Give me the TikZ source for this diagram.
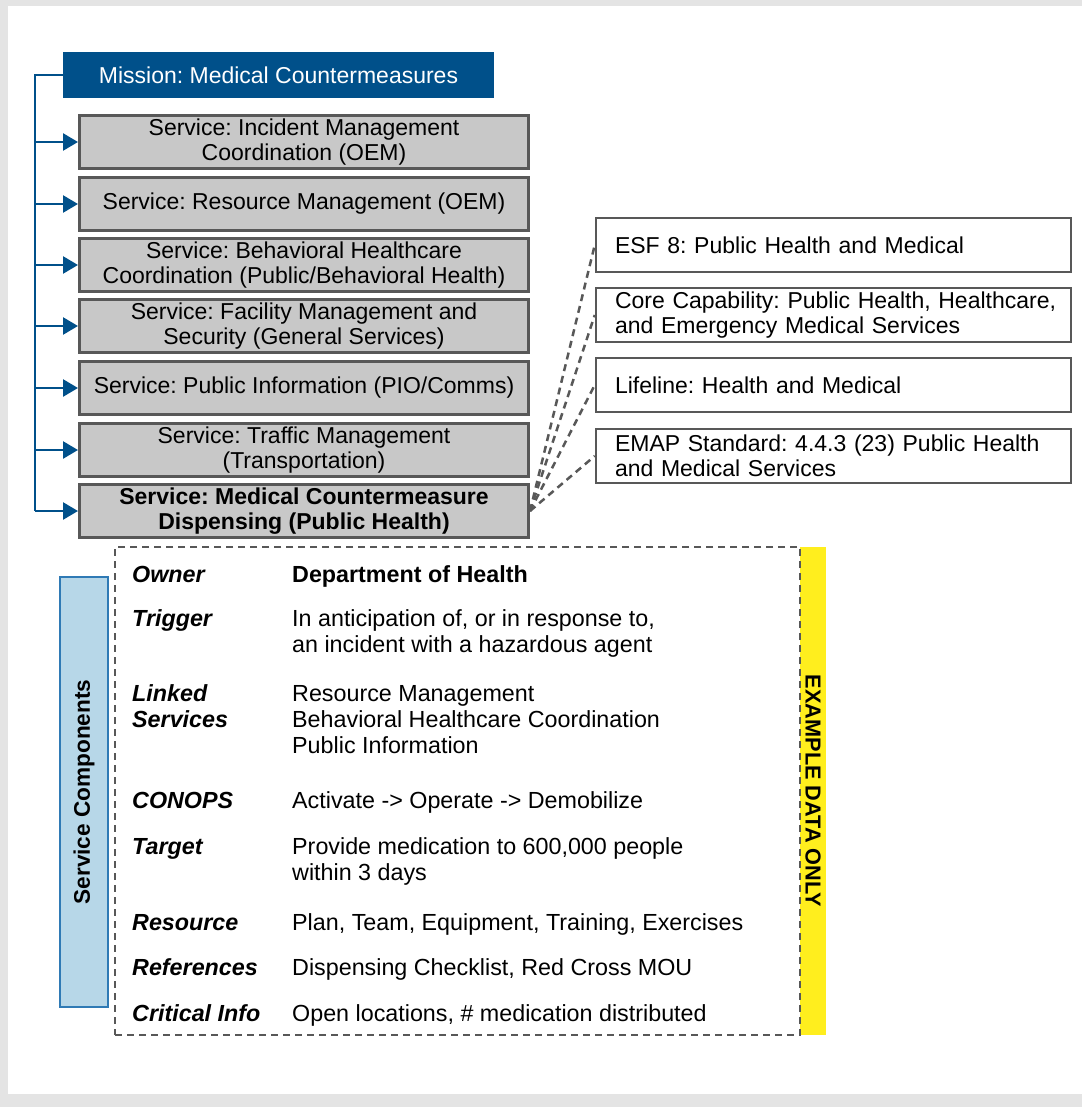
\documentclass[tikz,border=0pt]{standalone}
\usepackage{fontspec}
\setmainfont{Liberation Sans}
\usetikzlibrary{arrows.meta}

\definecolor{pagegray}{RGB}{228,228,228}
\definecolor{missionblue}{RGB}{0,80,138}
\definecolor{svcfill}{RGB}{200,200,200}
\definecolor{boxgray}{RGB}{88,88,88}
\definecolor{notebar}{RGB}{255,238,30}
\definecolor{compfill}{RGB}{183,215,232}
\definecolor{compline}{RGB}{47,122,181}

\newcommand\svcfont{\fontsize{23}{24.5}\selectfont}
\newcommand\rowfont{\fontsize{23.3}{26}\selectfont}

\begin{document}
\frenchspacing
\begin{tikzpicture}[x=1pt,y=-1pt,
  mission/.style={fill=missionblue, text=white, minimum width=431, minimum height=46, inner sep=0pt, font=\svcfont},
  svcbox/.style={draw=boxgray, line width=3pt, fill=svcfill, minimum width=449, minimum height=53, inner sep=0pt, align=center, font=\svcfont},
  refbox/.style={draw=boxgray, line width=2.5pt, fill=white, minimum height=54, text width=437, inner xsep=19, align=left, font=\svcfont},
  arr/.style={draw=missionblue, line width=2.5pt, -{Triangle[length=15pt,width=17pt]}},
  link/.style={draw=boxgray, line width=2.5pt, dash pattern=on 7pt off 5pt},
  rowlab/.style={anchor=base west, inner sep=0pt, align=left, font=\rowfont\bfseries\itshape},
  rowval/.style={anchor=base west, inner sep=0pt, align=left, font=\rowfont}]

  % page
  \useasboundingbox (0,0) rectangle (1082,1107);
  \fill[pagegray] (0,0) rectangle (1082,1107);
  \fill[white] (8,6) rectangle (1082,1094);

  % mission and its services
  \node[mission] (mission) at (278.5,75) {Mission: Medical Countermeasures};
  \node[svcbox] (svc1) at (304,142) {Service: Incident Management\\Coordination (OEM)};
  \node[svcbox] (svc2) at (304,204) {Service: Resource Management (OEM)};
  \node[svcbox] (svc3) at (304,265) {Service: Behavioral Healthcare\\Coordination (Public/Behavioral Health)};
  \node[svcbox] (svc4) at (304,326) {Service: Facility Management and\\Security (General Services)};
  \node[svcbox] (svc5) at (304,388) {Service: Public Information (PIO/Comms)};
  \node[svcbox] (svc6) at (304,450) {Service: Traffic Management\\(Transportation)};
  \node[svcbox, font=\svcfont\bfseries] (svc7) at (304,511) {Service: Medical Countermeasure\\Dispensing (Public Health)};

  \coordinate (trunk) at (35,75);
  \draw[missionblue, line width=2.5pt] (mission.west) -- (trunk) -- (trunk |- svc7.west);
  \foreach \i in {1,...,7}
    \draw[arr] (trunk |- svc\i.west) -- (svc\i.west);

  % alignment boxes
  \node[refbox] (esf) at (833.5,245) {ESF 8: Public Health and Medical};
  \node[refbox] (core) at (833.5,315) {\mbox{Core Capability: Public Health, Healthcare,}\\and Emergency Medical Services};
  \node[refbox] (life) at (833.5,385) {Lifeline: Health and Medical};
  \node[refbox] (emap) at (833.5,456) {EMAP Standard: 4.4.3 (23) Public Health\\and Medical Services};
  \foreach \n in {esf,core,life,emap}
    \draw[link] (svc7.east) -- (\n.west);

  % service components
  \node[fill=notebar, rotate=-90, minimum width=488, minimum height=26, inner sep=0pt,
        font=\fontsize{21.7}{24}\selectfont\bfseries] (note) at (813,791) {EXAMPLE DATA ONLY};
  \node[link, minimum width=685, minimum height=488] (comp) at (457.5,791) {};
  \node[draw=compline, line width=2pt, fill=compfill, rotate=90, minimum width=430, minimum height=48,
        inner sep=0pt, font=\fontsize{22.6}{24}\selectfont\bfseries] (side) at (84,792) {Service Components};

  % rows (base = last line)
  \node[rowlab] (owner) at (132,582) {Owner};
  \node[rowlab] (trigger) at (132,626) {Trigger};
  \node[rowlab] (linked) at (132,727) {Linked\\Services};
  \node[rowlab] (conops) at (132,808) {CONOPS};
  \node[rowlab] (target) at (132,854) {Target};
  \node[rowlab] (resource) at (132,930) {Resource};
  \node[rowlab] (refs) at (132,975) {References};
  \node[rowlab] (crit) at (132,1021) {Critical Info};

  \node[rowval, font=\rowfont\bfseries] (ownerv) at (292,582) {Department of Health};
  \node[rowval] (triggerv) at (292,652) {In anticipation of, or in response to,\\an incident with a hazardous agent};
  \node[rowval] (linkedv) at (292,753) {Resource Management\\Behavioral Healthcare Coordination\\Public Information};
  \node[rowval] (conopsv) at (292,808) {Activate -> Operate -> Demobilize};
  \node[rowval] (targetv) at (292,880) {Provide medication to 600,000 people\\within 3 days};
  \node[rowval] (resourcev) at (292,930) {Plan, Team, Equipment, Training, Exercises};
  \node[rowval] (refsv) at (292,975) {Dispensing Checklist, Red Cross MOU};
  \node[rowval] (critv) at (292,1021) {Open locations, \# medication distributed};
\end{tikzpicture}
\end{document}
